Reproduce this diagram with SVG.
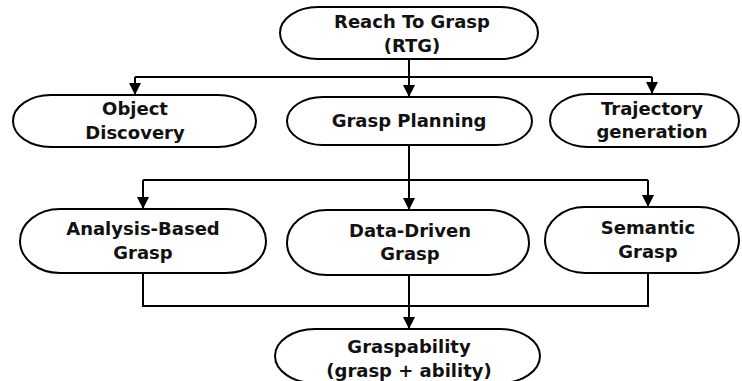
<svg xmlns="http://www.w3.org/2000/svg" width="742" height="381" viewBox="0 0 742 381">
<style>
.n{fill:#fff;stroke:#000;stroke-width:2}
.t{font-family:"DejaVu Sans",sans-serif;font-weight:bold;font-size:18px;fill:#111;text-anchor:middle}
.c{fill:none;stroke:#000;stroke-width:2}
</style>
<defs>
<marker id="ah" markerWidth="12" markerHeight="12" viewBox="0 0 12 12" refX="12" refY="6" orient="auto" markerUnits="userSpaceOnUse">
<path d="M0,0 L12,6 L0,12 z" fill="#000"/>
</marker>
</defs>
<rect width="742" height="381" fill="#fff"/>
<g id="connectors">
<path class="c" d="M409,59 V97" marker-end="url(#ah)"/>
<path class="c" d="M135,77 H652"/>
<path class="c" d="M135,77 V95" marker-end="url(#ah)"/>
<path class="c" d="M652,77 V94" marker-end="url(#ah)"/>
<path class="c" d="M409,145 V180"/>
<path class="c" d="M143,180 H648"/>
<path class="c" d="M143,180 V209" marker-end="url(#ah)"/>
<path class="c" d="M409,180 V210" marker-end="url(#ah)"/>
<path class="c" d="M648,180 V207" marker-end="url(#ah)"/>
<path class="c" d="M143,273 V306 H648 V273"/>
<path class="c" d="M409,275 V329" marker-end="url(#ah)"/>
</g>
<g id="rtg">
<rect class="n" x="280" y="7" width="258" height="52" rx="38" ry="26"/>
<text class="t" x="412" y="28">Reach To Grasp</text>
<text class="t" x="412" y="52">(RTG)</text>
</g>
<g id="object-discovery">
<rect class="n" x="13" y="95" width="243" height="52" rx="38" ry="26"/>
<text class="t" x="135" y="115">Object</text>
<text class="t" x="135" y="139">Discovery</text>
</g>
<g id="grasp-planning">
<rect class="n" x="287" y="97" width="245" height="48" rx="36" ry="24"/>
<text class="t" x="409" y="127">Grasp Planning</text>
</g>
<g id="trajectory-generation">
<rect class="n" x="550" y="94" width="189" height="53" rx="38" ry="26.5"/>
<text class="t" x="652" y="115">Trajectory</text>
<text class="t" x="652" y="138">generation</text>
</g>
<g id="analysis-based">
<rect class="n" x="20" y="209" width="246" height="64" rx="40" ry="32"/>
<text class="t" x="143" y="235">Analysis-Based</text>
<text class="t" x="143" y="259">Grasp</text>
</g>
<g id="data-driven">
<rect class="n" x="287" y="210" width="242" height="65" rx="40" ry="32.5"/>
<text class="t" x="410" y="237">Data-Driven</text>
<text class="t" x="410" y="260">Grasp</text>
</g>
<g id="semantic">
<rect class="n" x="545" y="207" width="194" height="66" rx="40" ry="33"/>
<text class="t" x="648" y="234">Semantic</text>
<text class="t" x="648" y="258">Grasp</text>
</g>
<g id="graspability">
<rect class="n" x="275" y="329" width="265" height="54" rx="40" ry="27"/>
<text class="t" x="409" y="353">Graspability</text>
<text class="t" x="409" y="377">(grasp + ability)</text>
</g>
</svg>
